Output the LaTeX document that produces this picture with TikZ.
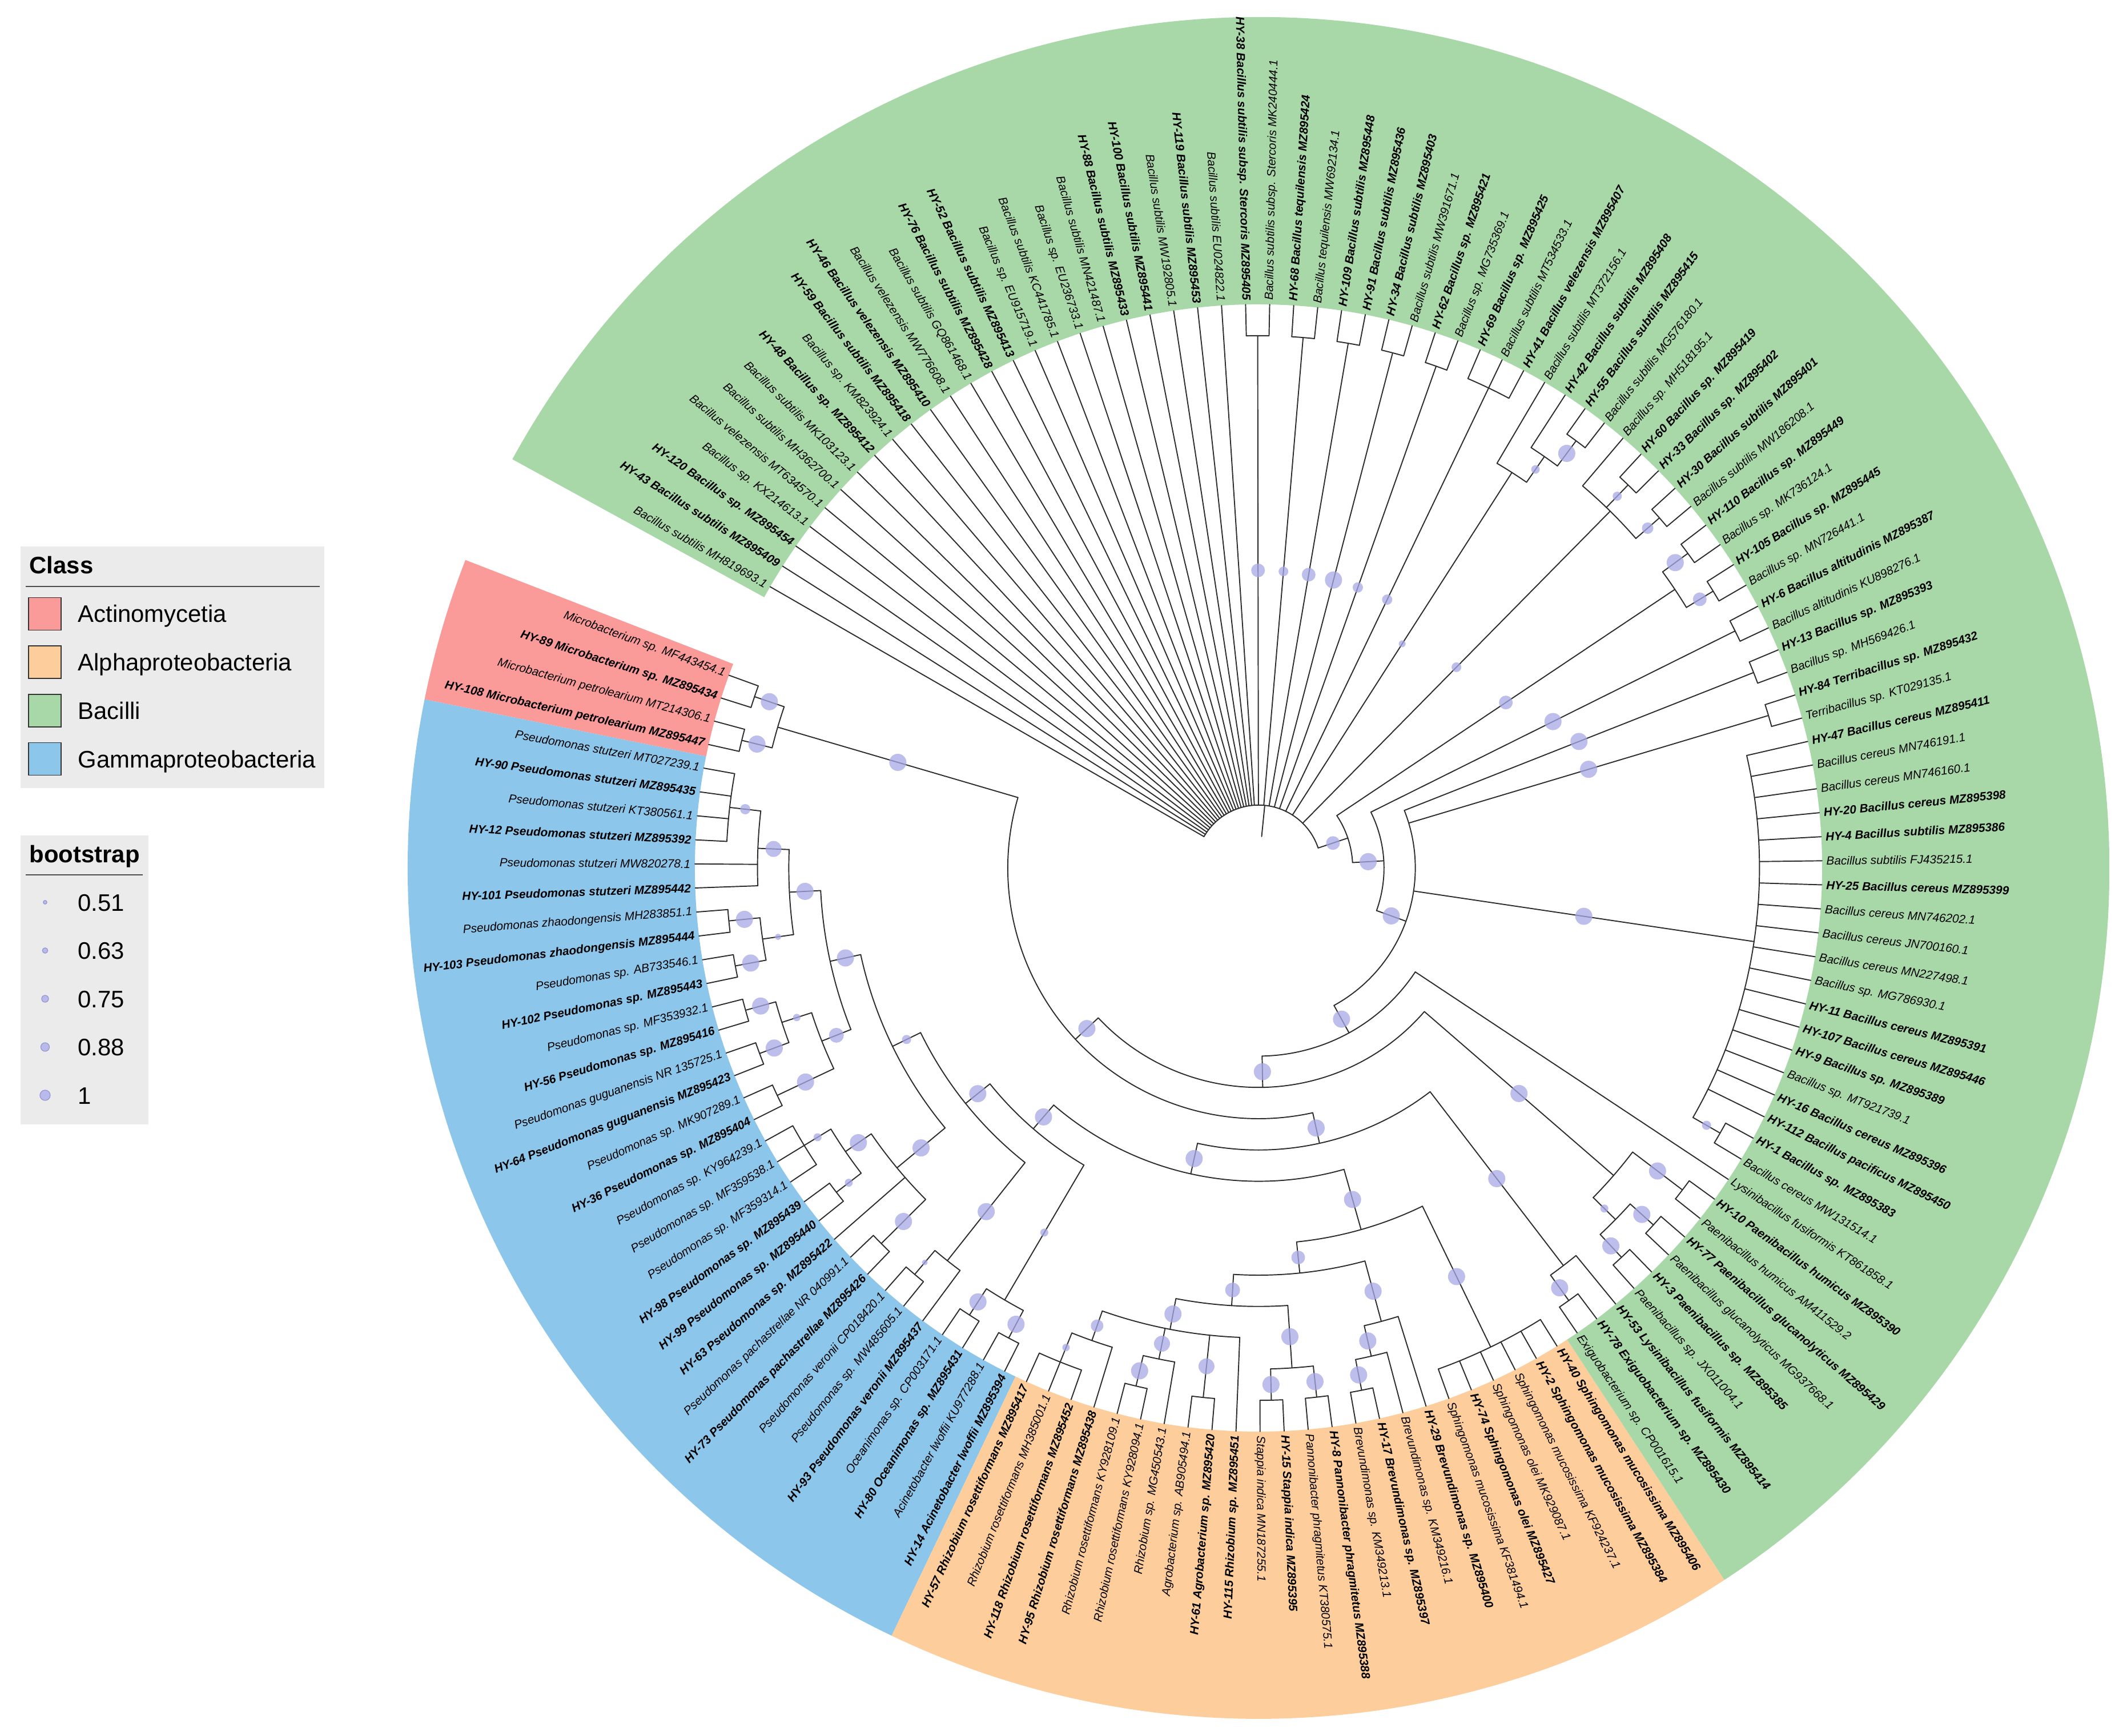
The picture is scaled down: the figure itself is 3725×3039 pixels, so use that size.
\documentclass[tikz,border=0pt]{standalone}
\usepackage{fontspec}
\setmainfont{Liberation Sans}
\definecolor{actino}{RGB}{250,155,153}
\definecolor{alphap}{RGB}{253,205,155}
\definecolor{bacilli}{RGB}{168,216,168}
\definecolor{gammap}{RGB}{141,198,235}
\definecolor{bsfill}{RGB}{168,168,230}
\definecolor{bsline}{RGB}{150,150,210}
\definecolor{legbg}{RGB}{235,235,235}
\definecolor{treeln}{RGB}{45,45,45}
\pgfdeclarelayer{dots}
\pgfsetlayers{main,dots}
% angle of tip slot k, radius of node at height h
\newcommand\ang[1]{160+(#1-1)*2.448}
\newcommand\rr[1]{987-54.8*(#1)}
% branch: slot, own height, parent height, dot radius
\newcommand\ed[4]{\draw[br] ({\ang{#1}}:{\rr{#3}}) -- ({\ang{#1}}:{\rr{#2}});
  \ifdim#4pt>0pt\begin{pgfonlayer}{dots}\fill[bs] ({\ang{#1}}:{\rr{(#2+#3)/2}}) circle[radius=#4];\end{pgfonlayer}\fi}
% clade arc: height, first slot, last slot
\newcommand\ac[3]{\draw[br] ({\ang{#2}}:{\rr{#1}}) arc[start angle={\ang{#2}}, end angle={\ang{#3}}, radius={\rr{#1}}];}
% class band: colour, first slot, last slot
\newcommand\clsband[3]{\fill[#1] ({\ang{#2}}:987) arc[start angle={\ang{#2}}, end angle={\ang{#3}}, radius=987] -- ({\ang{#3}}:1490) arc[start angle={\ang{#3}}, end angle={\ang{#2}}, radius=1490] -- cycle;}
\newcommand\hy{\bfseries\itshape}
\newcommand\rf{\itshape}
\tikzset{
  br/.style={line width=0.55pt, draw=treeln, line cap=round},
  bs/.style={fill=bsfill, fill opacity=0.75},
  lab/.style={font=\fontsize{5.9}{7}\selectfont, inner sep=0pt},
  legt/.style={font=\fontsize{11.9}{14}\selectfont\bfseries, inner sep=0pt},
  legi/.style={font=\fontsize{11.9}{14}\selectfont, inner sep=0pt},
  legrule/.style={line width=0.35pt, draw=black!70},
}
\begin{document}
\begin{tikzpicture}[x=0.01cm,y=0.01cm]
\useasboundingbox (-2204,-1519) rectangle (1521,1520);

% class bands
\clsband{actino}{0.5}{4.5}
\clsband{gammap}{4.5}{35.5}
\clsband{alphap}{35.5}{59.5}
\clsband{bacilli}{59.5}{144.5}

% tip branches
\foreach \k in {1,...,8} {\ed{\k}{0}{1}{0}}
\foreach \k in {11,...,25} {\ed{\k}{0}{1}{0}}
\foreach \k in {27,...,30} {\ed{\k}{0}{1}{0}}
\foreach \k in {32,...,38} {\ed{\k}{0}{1}{0}}
\foreach \k in {40,41,43,44} {\ed{\k}{0}{1}{0}}
\foreach \k in {46,...,51} {\ed{\k}{0}{1}{0}}
\foreach \k in {54,...,61} {\ed{\k}{0}{1}{0}}
\foreach \k in {63,...,68} {\ed{\k}{0}{1}{0}}
\foreach \k in {70,71} {\ed{\k}{0}{1}{0}}
\foreach \k in {89,...,102} {\ed{\k}{0}{1}{0}}
\foreach \k in {104,105} {\ed{\k}{0}{1}{0}}
\foreach \k in {108,...,120} {\ed{\k}{0}{1}{0}}
\foreach \k in {9,10,31,39,42,52,62,103,106} {\ed{\k}{0}{2}{0}}
\foreach \k in {72,...,88} {\ed{\k}{0}{2}{0}}
\foreach \k in {26,45,53,107} {\ed{\k}{0}{3}{0}}
\ed{69}{0}{12}{0}
\foreach \k in {121,...,144} {\ed{\k}{0}{16}{0}}

% Actinomycetia
\ed{1.5}{1}{2}{15}\ac{1}{1}{2}
\ed{3.5}{1}{2}{15}\ac{1}{3}{4}
\ed{2.5}{2}{10}{15}\ac{2}{1.5}{3.5}
% Gammaproteobacteria
\ed{6.5}{1}{2}{9}\ac{1}{5}{8}
\ed{8.25}{2}{3}{14}\ac{2}{6.5}{10}
\ed{11.5}{1}{2}{15}\ac{1}{11}{12}
\ed{13.5}{1}{2}{15}\ac{1}{13}{14}
\ed{12.5}{2}{3}{5.5}\ac{2}{11.5}{13.5}
\ed{10.375}{3}{4}{15}\ac{3}{8.25}{12.5}
\ed{15.5}{1}{2}{15}\ac{1}{15}{16}
\ed{17.5}{1}{2}{15}\ac{1}{17}{18}
\ed{16.5}{2}{3}{6.5}\ac{2}{15.5}{17.5}
\ed{19.5}{1}{3}{15}\ac{1}{19}{20}
\ed{18}{3}{4}{13}\ac{3}{16.5}{19.5}
\ed{14.1875}{4}{5}{15}\ac{4}{10.375}{18}
\ed{22}{1}{2}{7}\ac{1}{21}{23}
\ed{24.5}{1}{2}{7}\ac{1}{24}{25}
\ed{23.25}{2}{3}{15}\ac{2}{22}{24.5}
\ed{27.5}{1}{3}{15}\ac{1}{27}{28}
\ed{25.375}{3}{5}{15}\ac{3}{23.25}{27.5}
\ed{19.78125}{5}{6}{8}\ac{5}{14.1875}{25.375}
\ed{29.5}{1}{2}{5}\ac{1}{29}{30}
\ed{30.25}{2}{6}{15}\ac{2}{29.5}{31}
\ed{25.0156}{6}{7}{15}\ac{6}{19.78125}{30.25}
\ed{32.5}{1}{2}{15}\ac{1}{32}{33}
\ed{34.5}{1}{2}{15}\ac{1}{34}{35}
\ed{33.5}{2}{7}{7}\ac{2}{32.5}{34.5}
\ed{29.2578}{7}{8}{15}\ac{7}{25.0156}{33.5}
% Alphaproteobacteria
\ed{37}{1}{2}{6.5}\ac{1}{36}{38}
\ed{38}{2}{3}{11}\ac{2}{37}{39}
\ed{40.5}{1}{2}{15}\ac{1}{40}{41}
\ed{41.25}{2}{3}{14}\ac{2}{40.5}{42}
\ed{43.5}{1}{3}{14}\ac{1}{43}{44}
\ed{41.5}{3}{4}{15}\ac{3}{38}{45}
\ed{46.5}{1}{2}{15}\ac{1}{46}{47}
\ed{48.5}{1}{2}{15}\ac{1}{48}{49}
\ed{47.5}{2}{4}{15}\ac{2}{46.5}{48.5}
\ed{44.5}{4}{5}{13}\ac{4}{41.5}{47.5}
\ed{50.5}{1}{2}{15}\ac{1}{50}{51}
\ed{51.25}{2}{3}{15}\ac{2}{50.5}{52}
\ed{52.125}{3}{5}{15}\ac{3}{51.25}{53}
\ed{48.3125}{5}{6}{12}\ac{5}{44.5}{52.125}
\ed{56.5}{1}{6}{15}\ac{1}{54}{59}
\ed{52.4063}{6}{8}{15}\ac{6}{48.3125}{56.5}
\ed{40.832}{8}{9}{15}\ac{8}{29.2578}{52.4063}
% Bacilli and backbone
\ed{60.5}{1}{2}{15}\ac{1}{60}{61}
\ed{61.25}{2}{9}{15}\ac{2}{60.5}{62}
\ed{51.041}{9}{10}{15}\ac{9}{40.832}{61.25}
\ed{26.7705}{10}{11}{15}\ac{10}{2.5}{51.041}
\ed{63.5}{1}{2}{15}\ac{1}{63}{64}
\ed{65.5}{1}{2}{15}\ac{1}{65}{66}
\ed{64.5}{2}{3}{7}\ac{2}{63.5}{65.5}
\ed{67.5}{1}{3}{15}\ac{1}{67}{68}
\ed{66}{3}{11}{15}\ac{3}{64.5}{67.5}
\ed{46.385}{11}{12}{15}\ac{11}{26.7705}{66}
\ed{57.6926}{12}{13}{15}\ac{12}{46.385}{69}
\ed{70.5}{1}{2}{8}\ac{1}{70}{71}
\ed{79.25}{2}{13}{15}\ac{2}{70.5}{88}
\ed{89.5}{1}{13}{15}\ac{1}{89}{90}
\ed{91.5}{1}{13}{15}\ac{1}{91}{92}
\ed{74.596}{13}{14}{15}\ac{13}{57.6926}{91.5}
\ed{93.5}{1}{14}{15}\ac{1}{93}{94}
\ed{84.048}{14}{15}{15}\ac{14}{74.596}{93.5}
\ed{95.5}{1}{2}{12}\ac{1}{95}{96}
\ed{97.5}{1}{2}{15}\ac{1}{97}{98}
\ed{96.5}{2}{15}{12}\ac{2}{95.5}{97.5}
\ed{90.274}{15}{16}{12}\ac{15}{84.048}{96.5}
\ed{99.5}{1}{2}{10}\ac{1}{99}{100}
\ed{101.5}{1}{2}{8}\ac{1}{101}{102}
\ed{101.25}{2}{16}{8.5}\ac{2}{99.5}{103}
\ed{104.5}{1}{2}{15}\ac{1}{104}{105}
\ed{105.25}{2}{3}{7.5}\ac{2}{104.5}{106}
\ed{106.125}{3}{16}{6}\ac{3}{105.25}{107}
\ed{109}{1}{16}{9}\ac{1}{108}{110}
\ed{111.5}{1}{16}{9}\ac{1}{111}{112}
\ed{113.5}{1}{16}{15}\ac{1}{113}{114}
\ed{115.5}{1}{16}{12}\ac{1}{115}{116}
\ed{117.5}{1}{16}{8.5}\ac{1}{117}{118}
\ed{119.5}{1}{16}{12}\ac{1}{119}{120}
% root
\ed{117.137}{16}{17}{0}\ac{16}{90.274}{144}

% tip labels
\foreach \f/\t [count=\k] in {
\rf/Microbacterium sp. MF443454.1,
\hy/HY-89 Microbacterium sp. MZ895434,
\rf/Microbacterium petrolearium MT214306.1,
\hy/HY-108 Microbacterium petrolearium MZ895447,
\rf/Pseudomonas stutzeri MT027239.1,
\hy/HY-90 Pseudomonas stutzeri MZ895435,
\rf/Pseudomonas stutzeri KT380561.1,
\hy/HY-12 Pseudomonas stutzeri MZ895392,
\rf/Pseudomonas stutzeri MW820278.1,
\hy/HY-101 Pseudomonas stutzeri MZ895442,
\rf/Pseudomonas zhaodongensis MH283851.1,
\hy/HY-103 Pseudomonas zhaodongensis MZ895444,
\rf/Pseudomonas sp. AB733546.1,
\hy/HY-102 Pseudomonas sp. MZ895443,
\rf/Pseudomonas sp. MF353932.1,
\hy/HY-56 Pseudomonas sp. MZ895416,
\rf/Pseudomonas guguanensis NR 135725.1,
\hy/HY-64 Pseudomonas guguanensis MZ895423,
\rf/Pseudomonas sp. MK907289.1,
\hy/HY-36 Pseudomonas sp. MZ895404,
\rf/Pseudomonas sp. KY964239.1,
\rf/Pseudomonas sp. MF359538.1,
\rf/Pseudomonas sp. MF359314.1,
\hy/HY-98 Pseudomonas sp. MZ895439,
\hy/HY-99 Pseudomonas sp. MZ895440,
\hy/HY-63 Pseudomonas sp. MZ895422,
\rf/Pseudomonas pachastrellae NR 040991.1,
\hy/HY-73 Pseudomonas pachastrellae MZ895426,
\rf/Pseudomonas veronii CP018420.1,
\rf/Pseudomonas sp. MW485605.1,
\hy/HY-93 Pseudomonas veronii MZ895437,
\rf/Oceanimonas sp. CP003171.1,
\hy/HY-80 Oceanimonas sp. MZ895431,
\rf/Acinetobacter lwoffii KU977288.1,
\hy/HY-14 Acinetobacter lwoffii MZ895394,
\hy/HY-57 Rhizobium rosettiformans MZ895417,
\rf/Rhizobium rosettiformans MH385001.1,
\hy/HY-118 Rhizobium rosettiformans MZ895452,
\hy/HY-95 Rhizobium rosettiformans MZ895438,
\rf/Rhizobium rosettiformans KY928109.1,
\rf/Rhizobium rosettiformans KY928094.1,
\rf/Rhizobium sp. MG450543.1,
\rf/Agrobacterium sp. AB905494.1,
\hy/HY-61 Agrobacterium sp. MZ895420,
\hy/HY-115 Rhizobium sp. MZ895451,
\rf/Stappia indica MN187255.1,
\hy/HY-15 Stappia indica MZ895395,
\rf/Pannonibacter phragmitetus KT380575.1,
\hy/HY-8 Pannonibacter phragmitetus MZ895388,
\rf/Brevundimonas sp. KM349213.1,
\hy/HY-17 Brevundimonas sp. MZ895397,
\rf/Brevundimonas sp. KM349216.1,
\hy/HY-29 Brevundimonas sp. MZ895400,
\rf/Sphingomonas mucosissima KF381494.1,
\hy/HY-74 Sphingomonas olei MZ895427,
\rf/Sphingomonas olei MK929087.1,
\rf/Sphingomonas mucosissima KF924237.1,
\hy/HY-2 Sphingomonas mucosissima MZ895384,
\hy/HY-40 Sphingomonas mucosissima MZ895406,
\rf/Exiguobacterium sp. CP001615.1,
\hy/HY-78 Exiguobacterium sp. MZ895430,
\hy/HY-53 Lysinibacillus fusiformis MZ895414,
\rf/Paenibacillus sp. JX011004.1,
\hy/HY-3 Paenibacillus sp. MZ895385,
\rf/Paenibacillus glucanolyticus MG937668.1,
\hy/HY-77 Paenibacillus glucanolyticus MZ895429,
\rf/Paenibacillus humicus AM411529.2,
\hy/HY-10 Paenibacillus humicus MZ895390,
\rf/Lysinibacillus fusiformis KT861858.1,
\rf/Bacillus cereus MW131514.1,
\hy/HY-1 Bacillus sp. MZ895383,
\hy/HY-112 Bacillus pacificus MZ895450,
\hy/HY-16 Bacillus cereus MZ895396,
\rf/Bacillus sp. MT921739.1,
\hy/HY-9 Bacillus sp. MZ895389,
\hy/HY-107 Bacillus cereus MZ895446,
\hy/HY-11 Bacillus cereus MZ895391,
\rf/Bacillus sp. MG786930.1,
\rf/Bacillus cereus MN227498.1,
\rf/Bacillus cereus JN700160.1,
\rf/Bacillus cereus MN746202.1,
\hy/HY-25 Bacillus cereus MZ895399,
\rf/Bacillus subtilis FJ435215.1,
\hy/HY-4 Bacillus subtilis MZ895386,
\hy/HY-20 Bacillus cereus MZ895398,
\rf/Bacillus cereus MN746160.1,
\rf/Bacillus cereus MN746191.1,
\hy/HY-47 Bacillus cereus MZ895411,
\rf/Terribacillus sp. KT029135.1,
\hy/HY-84 Terribacillus sp. MZ895432,
\rf/Bacillus sp. MH569426.1,
\hy/HY-13 Bacillus sp. MZ895393,
\rf/Bacillus altitudinis KU898276.1,
\hy/HY-6 Bacillus altitudinis MZ895387,
\rf/Bacillus sp. MN726441.1,
\hy/HY-105 Bacillus sp. MZ895445,
\rf/Bacillus sp. MK736124.1,
\hy/HY-110 Bacillus sp. MZ895449,
\rf/Bacillus subtilis MW186208.1,
\hy/HY-30 Bacillus subtilis MZ895401,
\hy/HY-33 Bacillus sp. MZ895402,
\hy/HY-60 Bacillus sp. MZ895419,
\rf/Bacillus sp. MH518195.1,
\rf/Bacillus subtilis MG576180.1,
\hy/HY-55 Bacillus subtilis MZ895415,
\hy/HY-42 Bacillus subtilis MZ895408,
\rf/Bacillus subtilis MT372156.1,
\hy/HY-41 Bacillus velezensis MZ895407,
\rf/Bacillus subtilis MT534533.1,
\hy/HY-69 Bacillus sp. MZ895425,
\rf/Bacillus sp. MG735369.1,
\hy/HY-62 Bacillus sp. MZ895421,
\rf/Bacillus subtilis MW391671.1,
\hy/HY-34 Bacillus subtilis MZ895403,
\hy/HY-91 Bacillus subtilis MZ895436,
\hy/HY-109 Bacillus subtilis MZ895448,
\rf/Bacillus tequilensis MW692134.1,
\hy/HY-68 Bacillus tequilensis MZ895424,
\rf/Bacillus subtilis subsp. Stercoris MK240444.1,
\hy/HY-38 Bacillus subtilis subsp. Stercoris MZ895405,
\rf/Bacillus subtilis EU024822.1,
\hy/HY-119 Bacillus subtilis MZ895453,
\rf/Bacillus subtilis MW192805.1,
\hy/HY-100 Bacillus subtilis MZ895441,
\hy/HY-88 Bacillus subtilis MZ895433,
\rf/Bacillus subtilis MN421487.1,
\rf/Bacillus sp. EU236733.1,
\rf/Bacillus subtilis KC441785.1,
\rf/Bacillus sp. EU915719.1,
\hy/HY-52 Bacillus subtilis MZ895413,
\hy/HY-76 Bacillus subtilis MZ895428,
\rf/Bacillus subtilis GQ861468.1,
\rf/Bacillus velezensis MW776608.1,
\hy/HY-46 Bacillus velezensis MZ895410,
\hy/HY-59 Bacillus subtilis MZ895418,
\rf/Bacillus sp. KM823924.1,
\hy/HY-48 Bacillus sp. MZ895412,
\rf/Bacillus subtilis MK103123.1,
\rf/Bacillus subtilis MH362700.1,
\rf/Bacillus velezensis MT634570.1,
\rf/Bacillus sp. KX214613.1,
\hy/HY-120 Bacillus sp. MZ895454,
\hy/HY-43 Bacillus subtilis MZ895409,
\rf/Bacillus subtilis MH819693.1} {
  \pgfmathsetmacro\tha{160+(\k-1)*2.448}
  \ifdim\tha pt<270pt
    \node[lab, anchor=east, rotate=\tha-180] (t\k) at (\tha:994) {\f\t};
  \else\ifdim\tha pt>450pt
    \node[lab, anchor=east, rotate=\tha-180] (t\k) at (\tha:994) {\f\t};
  \else
    \node[lab, anchor=west, rotate=\tha] (t\k) at (\tha:994) {\f\t};
  \fi\fi
}

% legends, in image pixels from the top left corner
\begin{scope}[shift={(-2204,1520)}, yscale=-1]
\fill[legbg] (36,957) rectangle (568,1380);
\node[legt, anchor=base west] (clshead) at (51,1005) {Class};
\draw[legrule] (45,1027) -- (560,1027);
\foreach \c/\t [count=\i] in {actino/Actinomycetia, alphap/Alphaproteobacteria, bacilli/Bacilli, gammap/Gammaproteobacteria} {
  \pgfmathsetmacro\yy{1075+(\i-1)*84.7}
  \filldraw[fill=\c, draw=black!80, line width=0.45pt] (50,\yy-28.5) rectangle (107,\yy+28.5);
  \node[legi, anchor=base west] (clskey\i) at (136,\yy+15) {\t};
}
\fill[legbg] (36,1463) rectangle (260,1969);
\node[legt, anchor=base west] (bshead) at (51,1510) {bootstrap};
\draw[legrule] (45,1532) -- (250,1532);
\foreach \v/\s [count=\i] in {0.51/3.2, 0.63/4.7, 0.75/6, 0.88/7.5, 1/9} {
  \pgfmathsetmacro\yy{1580+(\i-1)*84.5}
  \filldraw[fill=bsfill!80, draw=bsline, line width=0.35pt] (79,\yy) circle[radius=\s];
  \node[legi, anchor=base west] (bskey\i) at (136,\yy+15) {\v};
}
\end{scope}
\end{tikzpicture}
\end{document}
